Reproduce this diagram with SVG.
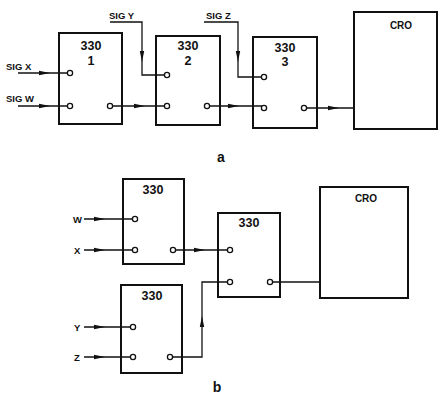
<svg xmlns="http://www.w3.org/2000/svg" width="442" height="396" viewBox="0 0 442 396">
<style>
.box{fill:none;stroke:#111;stroke-width:2}
.ln{fill:none;stroke:#111;stroke-width:1.3}
.pin{fill:#fff;stroke:#111;stroke-width:1.3}
text{font-family:"Liberation Sans",Arial,sans-serif;font-weight:bold;fill:#111;font-size:12.5px;text-anchor:middle}
.lbl{text-anchor:start;font-size:9.5px}
.cro{font-size:10px}
.cap{font-size:14px}
</style>
<defs>
<path id="ah" d="M-6,-2.2 L5,0 L-6,2.2 Z" fill="#111"/>
</defs>
<rect width="442" height="396" fill="#fff"/>

<g id="connectors">
<!-- part a -->
<path class="ln" d="M18,73 L68,73"/>
<use href="#ah" transform="translate(45,73)"/>
<path class="ln" d="M18,106 L68,106"/>
<use href="#ah" transform="translate(45,106)"/>
<path class="ln" d="M112,106 L164,106"/>
<use href="#ah" transform="translate(140,106)"/>
<path class="ln" d="M110,22 L142,22 L142,75 L165,75"/>
<use href="#ah" transform="translate(142,57) rotate(90)"/>
<path class="ln" d="M209,106 L262,106"/>
<use href="#ah" transform="translate(234,106)"/>
<path class="ln" d="M204,22 L238,22 L238,77 L262,77"/>
<use href="#ah" transform="translate(238,57) rotate(90)"/>
<path class="ln" d="M306,108 L354,108"/>
<use href="#ah" transform="translate(334,108)"/>
<!-- part b -->
<path class="ln" d="M84,219 L133,219"/>
<use href="#ah" transform="translate(100,219)"/>
<path class="ln" d="M84,250 L133,250"/>
<use href="#ah" transform="translate(100,250)"/>
<path class="ln" d="M175,250 L228,250"/>
<use href="#ah" transform="translate(200,250)"/>
<path class="ln" d="M84,327 L131,327"/>
<use href="#ah" transform="translate(100,327)"/>
<path class="ln" d="M84,357 L131,357"/>
<use href="#ah" transform="translate(100,357)"/>
<path class="ln" d="M172,357 L202,357 L202,282 L228,282"/>
<use href="#ah" transform="translate(202,321) rotate(-90)"/>
<path class="ln" d="M272,282 L320,282"/>
</g>

<g id="n330-1">
<rect class="box" x="59" y="33" width="63" height="91"/>
<text x="91" y="50">330</text>
<text x="91" y="65">1</text>
<circle class="pin" cx="70" cy="73" r="2.6"/>
<circle class="pin" cx="70" cy="106" r="2.6"/>
<circle class="pin" cx="110" cy="106" r="2.6"/>
</g>
<g id="n330-2">
<rect class="box" x="156" y="36" width="64" height="89"/>
<text x="188" y="50">330</text>
<text x="188" y="65">2</text>
<circle class="pin" cx="167" cy="75" r="2.6"/>
<circle class="pin" cx="167" cy="106" r="2.6"/>
<circle class="pin" cx="207" cy="106" r="2.6"/>
</g>
<g id="n330-3">
<rect class="box" x="253" y="37" width="64" height="91"/>
<text x="285" y="52">330</text>
<text x="285" y="66">3</text>
<circle class="pin" cx="264" cy="77" r="2.6"/>
<circle class="pin" cx="264" cy="108" r="2.6"/>
<circle class="pin" cx="304" cy="108" r="2.6"/>
</g>
<g id="cro-a">
<rect class="box" x="354" y="12" width="83" height="117"/>
<text class="cro" x="401" y="29">CRO</text>
</g>
<g id="labels-a">
<text class="lbl" x="6" y="70">SIG X</text>
<text class="lbl" x="6" y="102">SIG W</text>
<text class="lbl" x="109" y="19">SIG Y</text>
<text class="lbl" x="206" y="19">SIG Z</text>
<text class="cap" x="221" y="162">a</text>
</g>

<g id="b-top">
<rect class="box" x="123" y="179" width="61" height="85"/>
<text x="153" y="194">330</text>
<circle class="pin" cx="135" cy="219" r="2.6"/>
<circle class="pin" cx="135" cy="250" r="2.6"/>
<circle class="pin" cx="173" cy="250" r="2.6"/>
</g>
<g id="b-mid">
<rect class="box" x="218" y="213" width="62" height="84"/>
<text x="249" y="227">330</text>
<circle class="pin" cx="230" cy="250" r="2.6"/>
<circle class="pin" cx="230" cy="282" r="2.6"/>
<circle class="pin" cx="270" cy="282" r="2.6"/>
</g>
<g id="b-bot">
<rect class="box" x="121" y="285" width="61" height="88"/>
<text x="152" y="300">330</text>
<circle class="pin" cx="133" cy="327" r="2.6"/>
<circle class="pin" cx="133" cy="357" r="2.6"/>
<circle class="pin" cx="170" cy="357" r="2.6"/>
</g>
<g id="cro-b">
<rect class="box" x="320" y="187" width="88" height="111"/>
<text class="cro" x="366" y="202">CRO</text>
</g>
<g id="labels-b">
<text class="lbl" x="73" y="223">W</text>
<text class="lbl" x="74" y="254">X</text>
<text class="lbl" x="74" y="331">Y</text>
<text class="lbl" x="74" y="361">Z</text>
<text class="cap" x="217" y="392">b</text>
</g>
</svg>
